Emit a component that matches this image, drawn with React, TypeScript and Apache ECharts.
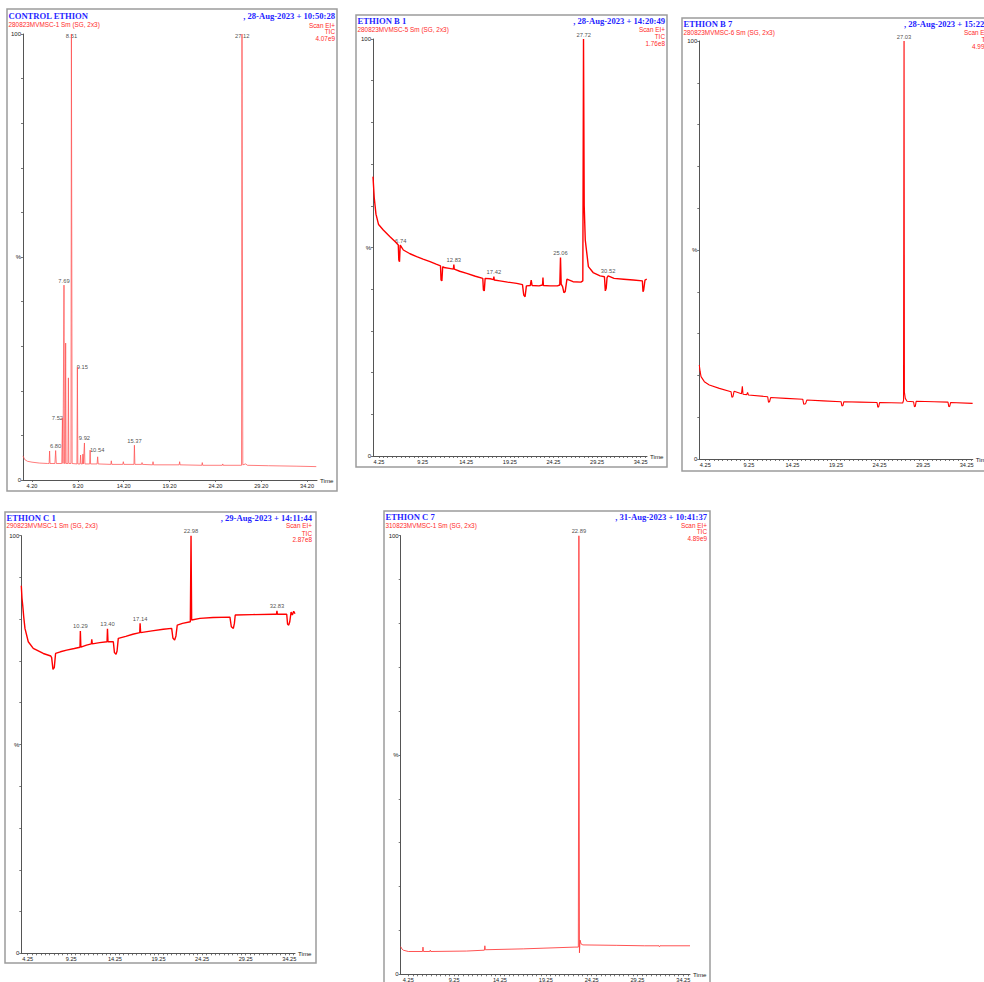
import React, { useEffect, useRef } from "react";
import * as echarts from "echarts";

// ---------- DATA ----------
// Control Ethion trace [time (min), relative abundance %]
const controlTrace: number[][] = [
  [3.22, 5.4], [3.4, 4.6], [3.7, 4.2], [4.2, 4.0], [5.0, 3.8], [5.9, 3.7], [6.07, 3.7], [6.12, 6.5], [6.17, 3.7],
  [6.7, 3.7], [6.78, 6.6], [6.85, 3.7], [7.45, 3.7], [7.52, 13.9], [7.58, 3.7], [7.64, 3.7], [7.69, 43.7], [7.74, 3.7],
  [7.82, 3.7], [7.87, 30.7], [7.92, 3.7], [8.12, 3.7], [8.17, 22.9], [8.22, 3.7], [8.45, 3.7], [8.5, 100], [8.53, 100],
  [8.58, 3.7], [9.1, 3.6], [9.15, 25.3], [9.2, 3.6], [9.45, 3.6], [9.5, 5.6], [9.55, 3.6], [9.7, 3.6], [9.75, 5.8],
  [9.8, 3.6], [9.87, 3.6], [9.92, 8.3], [9.97, 3.6], [10.49, 3.6], [10.54, 6.7], [10.59, 3.6], [11.3, 3.6], [11.36, 5.2],
  [11.42, 3.6], [12.8, 3.5], [12.85, 4.3], [12.9, 3.5], [14.1, 3.5], [14.16, 4.1], [14.22, 3.5], [15.32, 3.5],
  [15.37, 7.8], [15.42, 3.5], [16.15, 3.5], [16.2, 3.9], [16.25, 3.5], [17.35, 3.4], [17.4, 4.1], [17.45, 3.4],
  [20.25, 3.4], [20.3, 4.1], [20.35, 3.4], [22.72, 3.3], [22.77, 3.9], [22.82, 3.3], [24.95, 3.3], [25.0, 3.6],
  [25.05, 3.3], [27.05, 3.3], [27.1, 100], [27.14, 100], [27.19, 3.4], [27.5, 3.6], [27.7, 3.3], [30, 3.2], [33, 3.1],
  [35.2, 3.0],
];
const controlPeakTimes = [6.78, 7.52, 7.69, 8.51, 9.15, 9.92, 10.54, 15.37, 27.12];
const controlPeakHeights = [6.6, 13.9, 43.7, 100, 25.3, 8.3, 6.7, 7.8, 100];
const controlPeakLabels = ["6.80", "7.52", "7.69", "8.51", "9.15", "9.92", "10.54", "15.37", "27.12"];

// Ethion B 1
const b1Trace: number[][] = [
  [3.56, 67], [3.7, 62], [3.9, 58], [4.2, 55.5], [4.74, 54.2], [5.51, 52.6], [6.2, 51.2], [6.46, 50.6], [6.52, 47.0],
  [6.6, 46.6], [6.68, 50.6], [6.74, 50.4], [7.04, 49.4], [7.8, 48.5], [8.57, 47.8], [9.3, 47.2], [10.1, 46.6],
  [10.8, 46.0], [11.3, 45.6], [11.36, 42.2], [11.46, 42.0], [11.55, 45.4], [11.7, 45.2], [12.3, 45.0], [12.78, 44.8],
  [12.83, 45.9], [12.88, 44.8], [13.5, 44.3], [14.31, 43.8], [15.3, 43.1], [16.15, 42.6], [16.22, 39.8], [16.32, 39.6],
  [16.42, 42.6], [17.0, 42.5], [17.38, 42.3], [17.42, 43.0], [17.47, 42.2], [18.1, 42.0], [19.0, 41.7], [20.04, 41.4],
  [20.7, 41.1], [20.85, 38.6], [21.0, 38.2], [21.15, 40.8], [21.6, 40.9], [21.7, 42.2], [21.8, 40.9], [22.6, 40.8],
  [23.0, 41.0], [23.05, 42.8], [23.1, 40.9], [23.86, 40.8], [24.7, 40.8], [24.98, 41.0], [25.06, 47.6], [25.14, 41.2],
  [25.3, 40.6], [25.45, 39.2], [25.6, 39.4], [25.8, 42.4], [26.5, 41.8], [27.4, 41.7], [27.62, 42], [27.7, 100],
  [27.78, 60], [27.9, 51.8], [28.26, 45.4], [28.8, 44.0], [29.6, 43.2], [30.1, 43.0], [30.2, 39.6], [30.3, 40.2],
  [30.4, 42.8], [30.52, 43.2], [31.2, 42.6], [32.3, 42.4], [33.4, 42.2], [34.45, 42.0], [34.52, 39.4], [34.6, 39.8],
  [34.75, 42.2], [34.95, 42.4],
];
const b1PeakTimes = [6.74, 12.83, 17.42, 25.06, 27.72, 30.52];
const b1PeakHeights = [50.4, 45.9, 43.0, 47.6, 100, 43.2];
const b1PeakLabels = ["6.74", "12.83", "17.42", "25.06", "27.72", "30.52"];

// Ethion B 7
const b7Trace: number[][] = [
  [3.56, 22.5], [3.65, 21], [3.76, 19.7], [4.14, 18.5], [4.71, 17.7], [5.86, 16.9], [7.2, 16.1], [7.3, 14.8],
  [7.42, 14.9], [7.55, 16.2], [8.4, 15.6], [8.5, 17.4], [8.58, 15.5], [9.0, 15.4], [9.1, 15.9], [9.2, 15.3],
  [11.41, 14.9], [11.5, 13.6], [11.62, 13.7], [11.75, 14.7], [13.5, 14.5], [15.43, 14.3], [15.55, 13.1], [15.75, 13.2],
  [15.9, 14.1], [17.8, 13.9], [19.83, 13.7], [19.93, 12.7], [20.05, 12.8], [20.15, 13.7], [22, 13.6], [23.96, 13.5],
  [24.05, 12.4], [24.15, 12.5], [24.25, 13.5], [26.9, 13.4], [27.0, 14], [27.06, 100], [27.1, 16], [27.2, 14.5],
  [27.4, 13.8], [28.15, 13.7], [28.25, 12.5], [28.35, 12.6], [28.45, 13.8], [30.5, 13.7], [32.1, 13.6], [32.2, 12.5],
  [32.3, 12.6], [32.4, 13.5], [34.93, 13.3],
];
const b7PeakTimes = [27.06];
const b7PeakHeights = [100];
const b7PeakLabels = ["27.03"];

// Ethion C 1
const c1Trace: number[][] = [
  [3.52, 88], [3.6, 85], [3.68, 83.4], [3.8, 80.5], [3.94, 77.8], [4.32, 74.6], [4.89, 73.0], [6.04, 71.8],
  [6.9, 71.2], [7.0, 70.8], [7.15, 68.0], [7.3, 68.4], [7.45, 71.8], [8.0, 72.2], [8.72, 72.6], [9.6, 73.0],
  [10.25, 73.3], [10.29, 77.2], [10.35, 73.3], [11.0, 73.8], [11.55, 74.1], [11.6, 75.2], [11.66, 74.1], [12.5, 74.4],
  [13.35, 74.6], [13.4, 77.7], [13.46, 74.6], [14.07, 74.6], [14.2, 72.0], [14.38, 71.6], [14.5, 72.4], [14.64, 75.4],
  [15.5, 75.9], [16.3, 76.4], [17.1, 76.8], [17.14, 79.0], [17.2, 76.8], [18.5, 77.2], [19.8, 77.6], [20.76, 77.8],
  [20.9, 75.5], [21.1, 75.0], [21.25, 76], [21.4, 78.6], [22.0, 79.0], [22.9, 79.4], [22.98, 100], [23.05, 79.8],
  [24.0, 80.2], [25.5, 80.4], [27.44, 80.5], [27.6, 78.2], [27.83, 77.8], [27.95, 79], [28.05, 81.0], [30.0, 81.1],
  [32.5, 81.2], [32.78, 81.2], [32.83, 82.0], [32.88, 81.2], [33.95, 81.2], [34.05, 78.8], [34.18, 78.6], [34.3, 79.4],
  [34.45, 81.7], [34.6, 81.0], [34.75, 81.9], [34.9, 81.3],
];
const c1PeakTimes = [10.29, 13.4, 17.14, 22.98, 32.83];
const c1PeakHeights = [77.2, 77.7, 79.0, 100, 82.0];
const c1PeakLabels = ["10.29", "13.40", "17.14", "22.98", "32.83"];

// Ethion C 7
const c7Trace: number[][] = [
  [3.42, 6.3], [3.55, 5.8], [3.7, 5.5], [4.25, 5.2], [5.8, 5.2], [5.85, 6.2], [5.9, 5.2], [6.6, 5.2], [6.65, 5.5],
  [6.7, 5.2], [10.6, 5.3], [12.55, 5.5], [12.6, 6.5], [12.65, 5.6], [16.79, 5.8], [22.43, 6.2], [22.8, 6.2],
  [22.86, 100], [22.92, 4.9], [22.98, 7.8], [23.1, 6.9], [23.3, 6.7], [27, 6.6], [30, 6.5], [31.6, 6.5], [31.65, 6.3],
  [31.7, 6.5], [34.98, 6.5],
];
const c7PeakTimes = [22.86];
const c7PeakHeights = [100];
const c7PeakLabels = ["22.89"];

// Tick labels
const ticks420 = [4.2, 9.2, 14.2, 19.2, 24.2, 29.2, 34.2];
const ticks425 = [4.25, 9.25, 14.25, 19.25, 24.25, 29.25, 34.25];

// ---------- LAYOUT ----------
const minorTicks = (start: number, end: number, step: number) => {
  const out: number[] = [];
  for (let v = start; v <= end + 1e-9; v += step) out.push(Math.round(v * 100) / 100);
  return out;
};

const SERIF = '"Liberation Serif", "DejaVu Serif", serif';
const SANS = '"Liberation Sans", Arial, sans-serif';
const BLUE = "#1f1fff";
const RED = "#ff2a2a";

// label pixel offsets for a few peak labels (layout only)
const controlLabelOffsets: number[][] = [[0, 0], [-5, 4], [0, 0], [0, 6], [5, 4], [0, 0], [7, 4], [0, 0], [0, 6]];

type Panel = {
  frame: number[];
  grid: number[];
  xMin: number;
  xMax: number;
  labels: number[];
  ticks: number[];
  title: string;
  titleY: number;
  sub: string;
  subY: number;
  date: string;
  rightX: number;
  scanY: number;
  ticY: number;
  valY: number;
  value: string;
  trace: number[][];
  peakT: number[];
  peakH: number[];
  peakL: string[];
  offsets?: number[][];
  lineColor: string;
  lineWidth: number;
  leftTexts?: boolean;
};

const panels: Panel[] = [
  {
    frame: [7, 9, 330, 482], grid: [23, 34, 294, 446], xMin: 3.22, xMax: 35.28,
    labels: ticks420, ticks: ticks420,
    title: "CONTROL ETHION", titleY: 16, sub: "280823MVMSC-1 Sm (SG, 2x3)", subY: 24,
    date: ", 28-Aug-2023 + 10:50:28", rightX: 335, scanY: 25, ticY: 31.5, valY: 38.5, value: "4.07e9",
    trace: controlTrace, peakT: controlPeakTimes, peakH: controlPeakHeights, peakL: controlPeakLabels,
    offsets: controlLabelOffsets,
    lineColor: "#ff5050", lineWidth: 0.75,
  },
  {
    frame: [356, 15, 311, 452], grid: [373, 39, 274, 417], xMin: 3.56, xMax: 34.98,
    labels: ticks425, ticks: minorTicks(4.25, 34.75, 0.5),
    title: "ETHION B 1", titleY: 21, sub: "280823MVMSC-5 Sm (SG, 2x3)", subY: 29,
    date: ", 28-Aug-2023 + 14:20:49", rightX: 665, scanY: 29, ticY: 36, valY: 43, value: "1.76e8",
    trace: b1Trace, peakT: b1PeakTimes, peakH: b1PeakHeights, peakL: b1PeakLabels,
    lineColor: "#ff0000", lineWidth: 1.4,
  },
  {
    frame: [682, 18, 312, 453], grid: [699.3, 41, 273.5, 418], xMin: 3.56, xMax: 34.95,
    labels: ticks425, ticks: minorTicks(4.25, 34.75, 0.5),
    title: "ETHION B 7", titleY: 24, sub: "280823MVMSC-6 Sm (SG, 2x3)", subY: 32,
    date: ", 28-Aug-2023 + 15:22:", rightX: 904, scanY: 32, ticY: 39.3, valY: 46, value: "4.99e9",
    trace: b7Trace, peakT: b7PeakTimes, peakH: b7PeakHeights, peakL: b7PeakLabels,
    lineColor: "#ff0000", lineWidth: 1.1, leftTexts: true,
  },
  {
    frame: [5, 512, 311, 451], grid: [21.3, 535.7, 273.7, 417.6], xMin: 3.52, xMax: 34.9,
    labels: ticks425, ticks: minorTicks(4.25, 34.75, 0.5),
    title: "ETHION C 1", titleY: 518.3, sub: "290823MVMSC-1 Sm (SG, 2x3)", subY: 525.7,
    date: ", 29-Aug-2023 + 14:11:44", rightX: 312, scanY: 525.7, ticY: 533.3, valY: 539.5, value: "2.87e8",
    trace: c1Trace, peakT: c1PeakTimes, peakH: c1PeakHeights, peakL: c1PeakLabels,
    lineColor: "#ff0000", lineWidth: 1.4,
  },
  {
    frame: [384, 511, 326, 482], grid: [400.7, 535.7, 289.3, 438.6], xMin: 3.42, xMax: 34.98,
    labels: ticks425, ticks: minorTicks(4.25, 34.75, 0.5),
    title: "ETHION C 7", titleY: 517, sub: "310823MVMSC-1 Sm (SG, 2x3)", subY: 525,
    date: ", 31-Aug-2023 + 10:41:37", rightX: 707, scanY: 525, ticY: 531.7, valY: 538.3, value: "4.89e9",
    trace: c7Trace, peakT: c7PeakTimes, peakH: c7PeakHeights, peakL: c7PeakLabels,
    lineColor: "#ff4040", lineWidth: 0.9,
  },
];

const txt = (text: string, x: number, y: number, font: string, fill: string, align: string) => ({
  type: "text",
  x,
  y,
  silent: true,
  style: { text, font, fill, textAlign: align, textVerticalAlign: "middle", align, verticalAlign: "middle" },
});

function buildOption() {
  const grids: any[] = [];
  const xAxes: any[] = [];
  const yAxes: any[] = [];
  const series: any[] = [];
  const graphics: any[] = [];

  panels.forEach((p, i) => {
    grids.push({
      left: p.grid[0], top: p.grid[1], width: p.grid[2], height: p.grid[3],
      containLabel: false, outerBoundsMode: "none", show: false,
    });
    xAxes.push({
      type: "value", gridIndex: i, min: p.xMin, max: p.xMax,
      name: "Time", nameLocation: "end", nameGap: 3,
      nameTextStyle: { fontSize: 6.2, color: "#222", fontFamily: SANS },
      axisLine: { onZero: false, lineStyle: { color: "#555", width: 1 } },
      axisTick: { show: true, length: 2, customValues: p.ticks, lineStyle: { color: "#555", width: 0.8 } },
      axisLabel: {
        customValues: p.labels, formatter: (v: number) => v.toFixed(2),
        fontSize: 5.6, color: "#222", margin: 3, fontFamily: SANS,
      },
      splitLine: { show: false },
    });
    yAxes.push({
      type: "value", gridIndex: i, min: 0, max: 100, interval: 10,
      axisLine: { show: true, onZero: false, lineStyle: { color: "#555", width: 1 } },
      axisTick: { show: true, length: 2, lineStyle: { color: "#555", width: 0.8 } },
      axisLabel: {
        formatter: (v: number) => (v === 100 ? "100" : v === 50 ? "%" : v === 0 ? "0" : ""),
        fontSize: 6, color: "#222", margin: 2, fontFamily: SANS,
      },
      splitLine: { show: false },
    });
    series.push({
      type: "line", xAxisIndex: i, yAxisIndex: i, data: p.trace,
      showSymbol: false, symbol: "none", smooth: false, clip: true,
      lineStyle: { color: p.lineColor, width: p.lineWidth },
      emphasis: { disabled: true }, silent: true,
    });
    series.push({
      type: "scatter", xAxisIndex: i, yAxisIndex: i,
      data: p.peakT.map((t, k) => ({
        value: [t, p.peakH[k]],
        name: p.peakL[k],
        label: p.offsets ? { offset: p.offsets[k] } : undefined,
      })),
      symbolSize: 1, itemStyle: { color: "rgba(0,0,0,0)" }, silent: true,
      label: {
        show: true, position: "top", distance: 1, formatter: "{b}",
        fontSize: 5.8, color: "#222", fontFamily: SANS,
      },
    });

    const [fx, fy, fw, fh] = p.frame;
    graphics.push({
      type: "rect", silent: true,
      shape: { x: fx, y: fy, width: fw, height: fh },
      style: { fill: "none", stroke: "#9c9c9c", lineWidth: 1.5 },
    });
    const titleFont = `bold 8.6px ${SERIF}`;
    const smallFont = `6.4px ${SANS}`;
    graphics.push(txt(p.title, fx + 1.5, p.titleY, titleFont, BLUE, "left"));
    graphics.push(txt(p.sub, fx + 1.5, p.subY, smallFont, RED, "left"));
    if (p.leftTexts) {
      graphics.push(txt(p.date, p.rightX, p.titleY, titleFont, BLUE, "left"));
      graphics.push(txt("Scan EI+", 964, p.scanY, smallFont, RED, "left"));
      graphics.push(txt("TIC", 981.5, p.ticY, smallFont, RED, "left"));
      graphics.push(txt(p.value, 972, p.valY, smallFont, RED, "left"));
    } else {
      graphics.push(txt(p.date, p.rightX, p.titleY, titleFont, BLUE, "right"));
      graphics.push(txt("Scan EI+", p.rightX, p.scanY, smallFont, RED, "right"));
      graphics.push(txt("TIC", p.rightX, p.ticY, smallFont, RED, "right"));
      graphics.push(txt(p.value, p.rightX, p.valY, smallFont, RED, "right"));
    }
  });

  return {
    animation: false,
    backgroundColor: "#ffffff",
    grid: grids,
    xAxis: xAxes,
    yAxis: yAxes,
    series,
    graphic: { elements: graphics },
  };
}

export default function App() {
  const ref = useRef<HTMLDivElement>(null);
  useEffect(() => {
    if (!ref.current) return;
    const chart = echarts.init(ref.current, undefined, { renderer: "svg" });
    chart.setOption(buildOption() as any);
    return () => chart.dispose();
  }, []);
  return (
    <div style={{ position: "fixed", left: 0, top: 0, width: 984, height: 982, overflow: "hidden", background: "#fff" }}>
      <div ref={ref} style={{ width: 1000, height: 982 }} />
    </div>
  );
}
